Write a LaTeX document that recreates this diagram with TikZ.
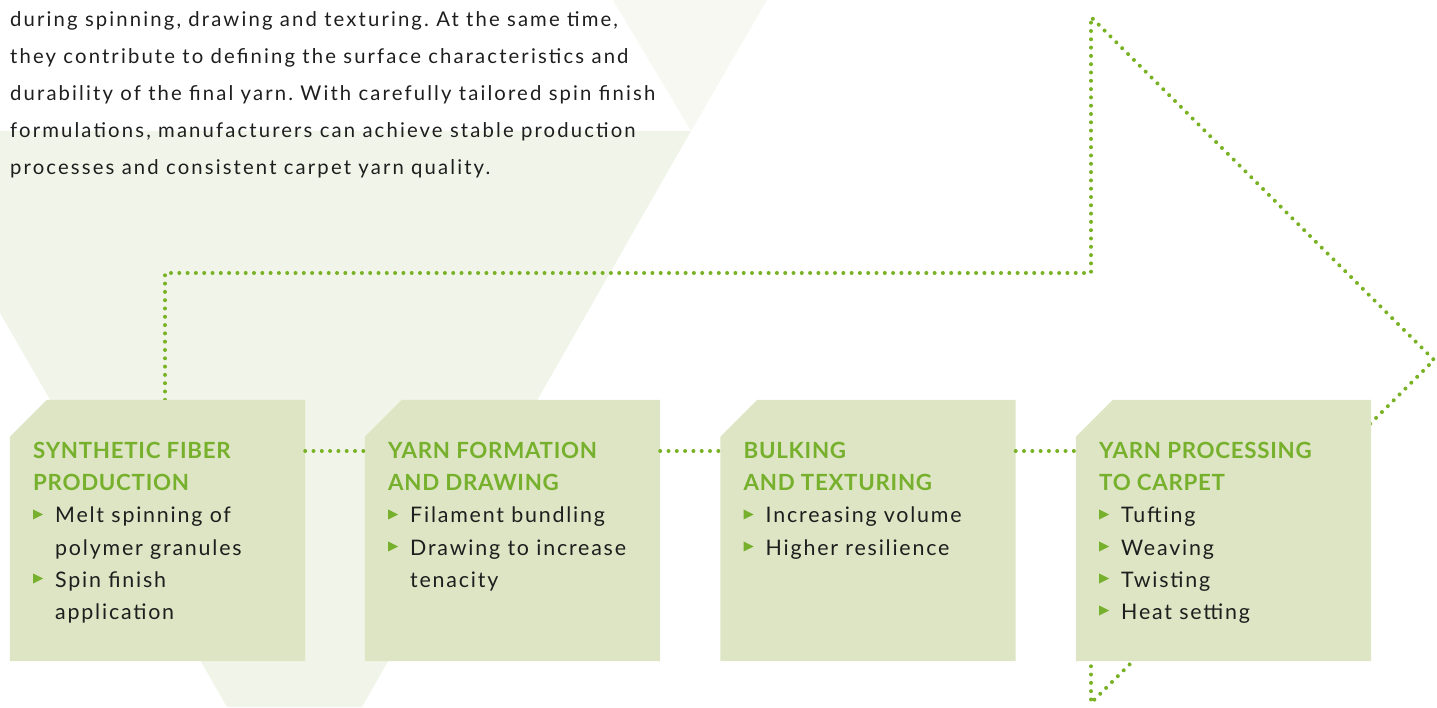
\documentclass[tikz,border=0pt]{standalone}
\usepackage{fontspec}
\setmainfont{Lato}
\newfontfamily\parafont[LetterSpace=10.5]{Lato}
\newfontfamily\itemfont[LetterSpace=8.4]{Lato}
\newfontfamily\hdgfont[LetterSpace=3.2]{Lato}
\frenchspacing
\definecolor{boxfill}{RGB}{221,229,196}
\definecolor{leafgreen}{RGB}{118,176,44}
\definecolor{dotgreen}{RGB}{122,178,38}
\definecolor{veil}{RGB}{241,245,233}
\definecolor{veillight}{RGB}{246,248,241}
\definecolor{inktext}{RGB}{30,30,30}
\pgfdeclarelayer{bg}
\pgfsetlayers{bg,main}
\tikzset{
  stepbox/.style={rectangle, minimum width=295pt, minimum height=261pt, inner sep=0pt},
  dotline/.style={draw=dotgreen, line width=4pt, line cap=round, dash pattern=on 0pt off 8.3pt},
  para/.style={anchor=base west, inner sep=0pt, text=inktext, font=\parafont\fontsize{20.3}{37}\selectfont},
  hdg/.style={anchor=base west, inner sep=0pt, text=leafgreen, font=\hdgfont\fontsize{22.3}{32}\selectfont\bfseries},
  item/.style={anchor=base west, inner sep=0pt, text=inktext, font=\itemfont\fontsize{21.4}{32}\selectfont},
  tri/.style={fill=leafgreen}
}
\begin{document}
\begin{tikzpicture}[x=1pt,y=1pt]
  \useasboundingbox (0,0) rectangle (1437,707);
  % intro text
  \node[para] (line1) at (10,680) {during spinning, drawing and texturing. At the same time,};
  \node[para] (line2) at (10,643) {they contribute to defining the surface characteristics and};
  \node[para] (line3) at (10,606) {durability of the final yarn. With carefully tailored spin finish};
  \node[para] (line4) at (10,569) {formulations, manufacturers can achieve stable production};
  \node[para] (line5) at (10,532) {processes and consistent carpet yarn quality.};
  % process steps
  \node[stepbox] (fiber) at (157.5,176.5) {};
  \node[stepbox] (yarn) at (512.5,176.5) {};
  \node[stepbox] (bulk) at (868,176.5) {};
  \node[stepbox] (carpet) at (1223.5,176.5) {};
  \foreach \b in {fiber,yarn,bulk,carpet}
    \fill[boxfill] (\b.south west) -- ([yshift=-37pt]\b.north west) -- ([xshift=37pt]\b.north west)
      -- (\b.north east) -- (\b.south east) -- cycle;
  % big arrow behind the steps
  \coordinate (shafttop) at (165,434);
  \coordinate (shaftlow) at (165,256);
  \coordinate (headup) at (1091,690);
  \coordinate (tip) at (1434,347);
  \coordinate (headlow) at (1091,4);
  \begin{pgfonlayer}{bg}
    \fill[veil] (0,576) -- (691,576) -- (362,0) -- (227,0) -- (0,394) -- cycle;
    \fill[veillight] (613,707) -- (767,707) -- (691,576) -- cycle;
    \draw[dotline] (fiber.north -| shafttop) -- (shafttop) -- (shafttop -| headup)
      -- (headup) -- (tip) -- (headlow) -- (headlow |- carpet.south);
  \end{pgfonlayer}
  \draw[dotline] (fiber.east |- shaftlow) -- (yarn.west |- shaftlow);
  \draw[dotline] (yarn.east |- shaftlow) -- (bulk.west |- shaftlow);
  \draw[dotline] (bulk.east |- shaftlow) -- (carpet.west |- shaftlow);
  % step 1
  \node[hdg] (fiber-h1) at (33,248) {SYNTHETIC FIBER};
  \node[hdg] (fiber-h2) at (33,216) {PRODUCTION};
  \foreach \txt/\yy/\mk [count=\i] in {Melt spinning of/184/1, polymer granules/152/0, Spin finish/120/1, application/88/0} {
    \node[item] (fiber-\i) at (55,\yy) {\txt};
    \ifnum\mk=1 \fill[tri] (33,\yy+3.5) -- ++(10,5) -- ++(-10,5) -- cycle; \fi
  }
  % step 2
  \node[hdg] (yarn-h1) at (388,248) {YARN FORMATION};
  \node[hdg] (yarn-h2) at (388,216) {AND DRAWING};
  \foreach \txt/\yy/\mk [count=\i] in {Filament bundling/184/1, Drawing to increase/152/1, tenacity/120/0} {
    \node[item] (yarn-\i) at (410,\yy) {\txt};
    \ifnum\mk=1 \fill[tri] (388,\yy+3.5) -- ++(10,5) -- ++(-10,5) -- cycle; \fi
  }
  % step 3
  \node[hdg] (bulk-h1) at (743.5,248) {BULKING};
  \node[hdg] (bulk-h2) at (743.5,216) {AND TEXTURING};
  \foreach \txt/\yy/\mk [count=\i] in {Increasing volume/184/1, Higher resilience/152/1} {
    \node[item] (bulk-\i) at (765.5,\yy) {\txt};
    \ifnum\mk=1 \fill[tri] (743.5,\yy+3.5) -- ++(10,5) -- ++(-10,5) -- cycle; \fi
  }
  % step 4
  \node[hdg] (carpet-h1) at (1099,248) {YARN PROCESSING};
  \node[hdg] (carpet-h2) at (1099,216) {TO CARPET};
  \foreach \txt/\yy/\mk [count=\i] in {Tufting/184/1, Weaving/152/1, Twisting/120/1, Heat setting/88/1} {
    \node[item] (carpet-\i) at (1121,\yy) {\txt};
    \ifnum\mk=1 \fill[tri] (1099,\yy+3.5) -- ++(10,5) -- ++(-10,5) -- cycle; \fi
  }
\end{tikzpicture}
\end{document}
